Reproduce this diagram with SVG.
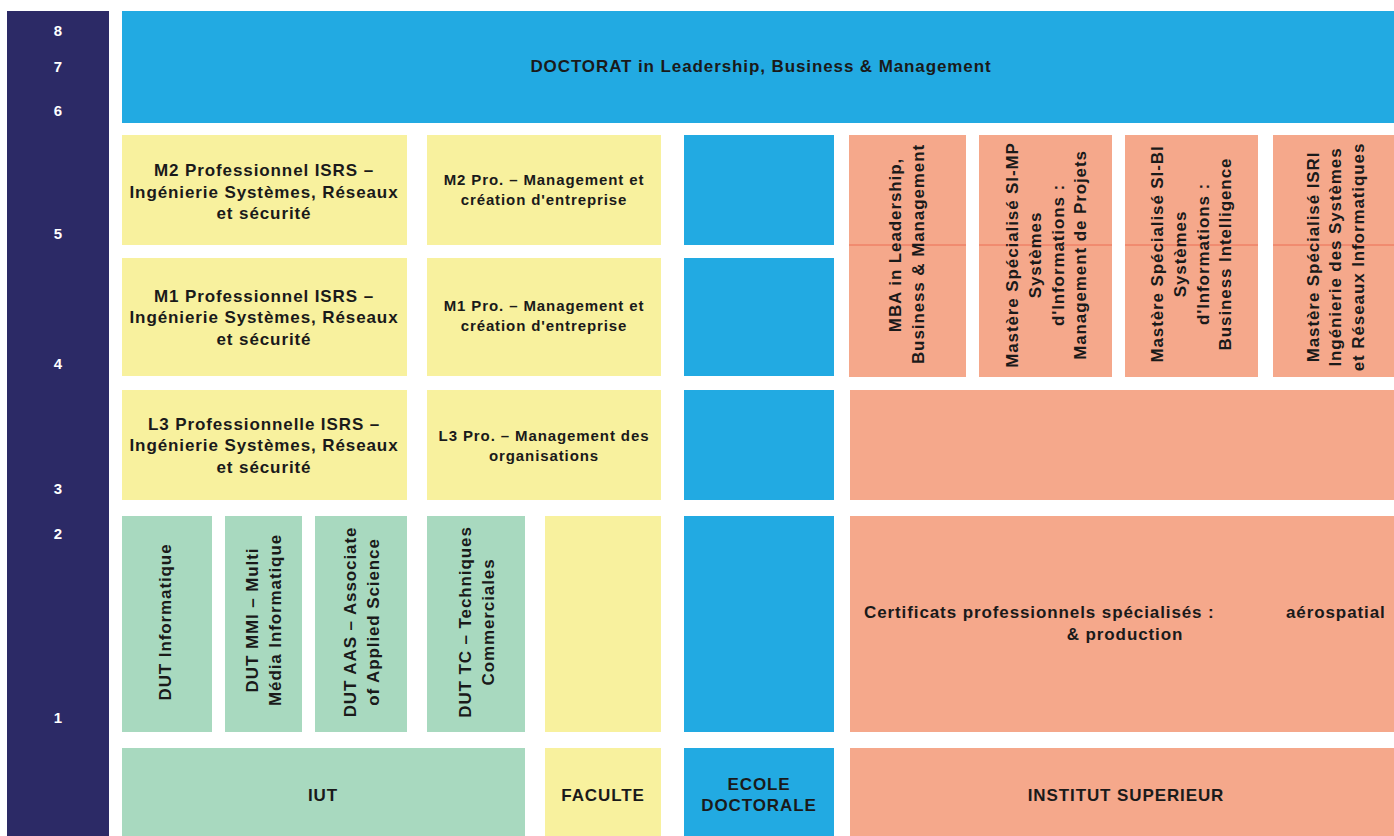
<svg xmlns="http://www.w3.org/2000/svg" width="1394" height="836" viewBox="0 0 1394 836">
<style>
text{font-family:"Liberation Sans",Arial,sans-serif;font-weight:bold;fill:#1a1a1a;text-anchor:middle}
.num{fill:#ffffff;font-size:15px}
.lg{font-size:17px;letter-spacing:0.9px}
.md{font-size:15px;letter-spacing:0.9px}
.navy{fill:#2C2A66}
.blue{fill:#22AAE2}
.yel{fill:#F8F19E}
.grn{fill:#A8D9BF}
.sal{fill:#F5A88B}
.red{stroke:#EC6F55;stroke-width:1}
</style>
<rect width="1394" height="836" fill="#ffffff"/>

<g id="level-axis">
<rect class="navy" x="7" y="11" width="102" height="825"/>
<text class="num" x="58" y="36">8</text>
<text class="num" x="58" y="72">7</text>
<text class="num" x="58" y="116">6</text>
<text class="num" x="58" y="239">5</text>
<text class="num" x="58" y="369">4</text>
<text class="num" x="58" y="494">3</text>
<text class="num" x="58" y="539">2</text>
<text class="num" x="58" y="723">1</text>
</g>

<g id="doctorat">
<rect class="blue" x="122" y="11" width="1272" height="112"/>
<text class="lg" x="761" y="72">DOCTORAT in Leadership, Business &amp; Management</text>
</g>

<g id="m2-isrs">
<rect class="yel" x="122" y="135" width="285" height="110"/>
<text class="lg" x="264" y="176">M2 Professionnel ISRS –</text>
<text class="lg" x="264" y="198">Ingénierie Systèmes, Réseaux</text>
<text class="lg" x="264" y="219">et sécurité</text>
</g>
<g id="m1-isrs">
<rect class="yel" x="122" y="258" width="285" height="118"/>
<text class="lg" x="264" y="302">M1 Professionnel ISRS –</text>
<text class="lg" x="264" y="323">Ingénierie Systèmes, Réseaux</text>
<text class="lg" x="264" y="345">et sécurité</text>
</g>
<g id="l3-isrs">
<rect class="yel" x="122" y="390" width="285" height="110"/>
<text class="lg" x="264" y="430">L3 Professionnelle ISRS –</text>
<text class="lg" x="264" y="451">Ingénierie Systèmes, Réseaux</text>
<text class="lg" x="264" y="473">et sécurité</text>
</g>

<g id="m2-mgmt">
<rect class="yel" x="427" y="135" width="234" height="110"/>
<text class="md" x="544" y="185">M2 Pro. – Management et</text>
<text class="md" x="544" y="205">création d'entreprise</text>
</g>
<g id="m1-mgmt">
<rect class="yel" x="427" y="258" width="234" height="118"/>
<text class="md" x="544" y="311">M1 Pro. – Management et</text>
<text class="md" x="544" y="331">création d'entreprise</text>
</g>
<g id="l3-mgmt">
<rect class="yel" x="427" y="390" width="234" height="110"/>
<text class="md" x="544" y="441">L3 Pro. – Management des</text>
<text class="md" x="544" y="461">organisations</text>
</g>
<g id="faculte-level1">
<rect class="yel" x="545" y="516" width="116" height="216"/>
</g>

<g id="dut-info">
<rect class="grn" x="122" y="516" width="90" height="216"/>
<text class="lg" transform="translate(171,622) rotate(-90)">DUT Informatique</text>
</g>
<g id="dut-mmi">
<rect class="grn" x="225" y="516" width="77" height="216"/>
<text class="lg" transform="translate(258,620) rotate(-90)"><tspan x="0" y="0">DUT MMI – Multi</tspan><tspan x="0" y="23">Média Informatique</tspan></text>
</g>
<g id="dut-aas">
<rect class="grn" x="315" y="516" width="92" height="216"/>
<text class="lg" transform="translate(356,622) rotate(-90)"><tspan x="0" y="0">DUT AAS – Associate</tspan><tspan x="0" y="23">of Applied Science</tspan></text>
</g>
<g id="dut-tc">
<rect class="grn" x="427" y="516" width="98" height="216"/>
<text class="lg" transform="translate(471,622) rotate(-90)"><tspan x="0" y="0">DUT TC – Techniques</tspan><tspan x="0" y="23">Commerciales</tspan></text>
</g>

<g id="ecole-column">
<rect class="blue" x="684" y="135" width="150" height="110"/>
<rect class="blue" x="684" y="258" width="150" height="118"/>
<rect class="blue" x="684" y="390" width="150" height="110"/>
<rect class="blue" x="684" y="516" width="150" height="216"/>
</g>

<g id="mba">
<rect class="sal" x="849" y="135" width="117" height="242"/>
<line class="red" x1="849" y1="245" x2="966" y2="245"/>
<text class="lg" transform="translate(901,254) rotate(-90)"><tspan x="9" y="0">MBA in Leadership,</tspan><tspan x="0" y="23">Business &amp; Management</tspan></text>
</g>
<g id="ms-si-mp">
<rect class="sal" x="979" y="135" width="133" height="242"/>
<line class="red" x1="979" y1="245" x2="1112" y2="245"/>
<text class="lg" transform="translate(1018,255) rotate(-90)"><tspan x="0" y="0">Mastère Spécialisé SI-MP</tspan><tspan x="0" y="23">Systèmes</tspan><tspan x="0" y="46">d'Informations :</tspan><tspan x="0" y="68">Management de Projets</tspan></text>
</g>
<g id="ms-si-bi">
<rect class="sal" x="1125" y="135" width="133" height="242"/>
<line class="red" x1="1125" y1="245" x2="1258" y2="245"/>
<text class="lg" transform="translate(1163,254) rotate(-90)"><tspan x="0" y="0">Mastère Spécialisé SI-BI</tspan><tspan x="0" y="23">Systèmes</tspan><tspan x="0" y="46">d'Informations :</tspan><tspan x="0" y="68">Business Intelligence</tspan></text>
</g>
<g id="ms-isri">
<rect class="sal" x="1273" y="135" width="121" height="242"/>
<line class="red" x1="1273" y1="245" x2="1394" y2="245"/>
<text class="lg" transform="translate(1319,257) rotate(-90)"><tspan x="0" y="0">Mastère Spécialisé ISRI</tspan><tspan x="0" y="22">Ingénierie des Systèmes</tspan><tspan x="0" y="45">et Réseaux Informatiques</tspan></text>
</g>
<g id="institut-level3">
<rect class="sal" x="850" y="390" width="544" height="110"/>
</g>
<g id="certificats">
<rect class="sal" x="850" y="516" width="544" height="216"/>
<text class="lg" x="864" y="618" style="text-anchor:start">Certificats professionnels spécialisés :</text>
<text class="lg" x="1286" y="618" style="text-anchor:start">aérospatial</text>
<text class="lg" x="1125" y="640">&amp; production</text>
</g>

<g id="iut">
<rect class="grn" x="122" y="748" width="403" height="88"/>
<text class="lg" x="323" y="801">IUT</text>
</g>
<g id="faculte">
<rect class="yel" x="545" y="748" width="116" height="88"/>
<text class="lg" x="603" y="801">FACULTE</text>
</g>
<g id="ecole-doctorale">
<rect class="blue" x="684" y="748" width="150" height="88"/>
<text class="lg" x="759" y="790">ECOLE</text>
<text class="lg" x="759" y="811">DOCTORALE</text>
</g>
<g id="institut-superieur">
<rect class="sal" x="850" y="748" width="544" height="88"/>
<text class="lg" x="1126" y="801">INSTITUT SUPERIEUR</text>
</g>

<g id="connectors"></g>
</svg>
